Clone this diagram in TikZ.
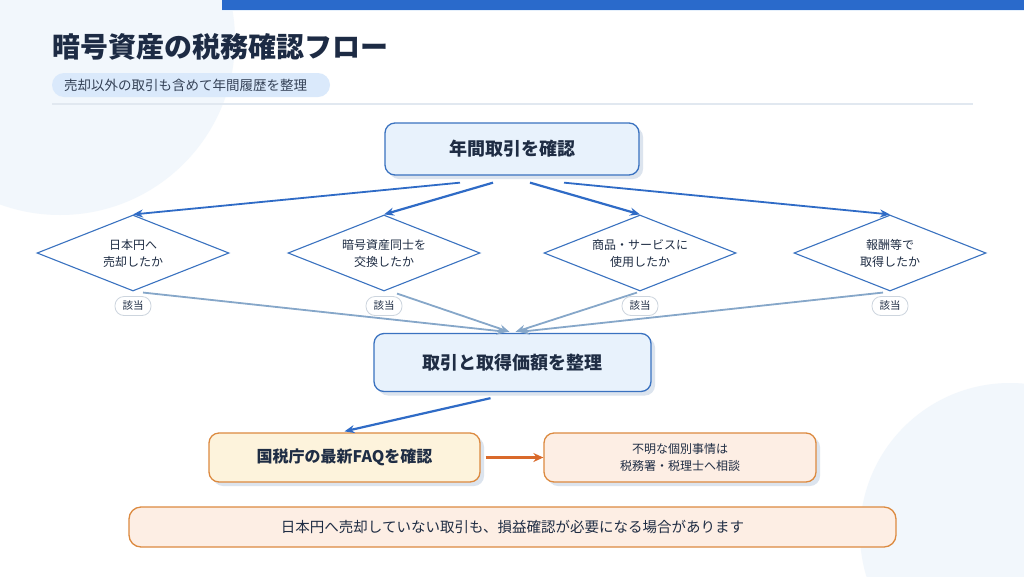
\documentclass[tikz,border=0pt]{standalone}
\usepackage{fontspec}
\setmainfont{Noto Sans CJK JP}
\usetikzlibrary{shapes.geometric,arrows.meta,calc,shadows}
\definecolor{barblue}{HTML}{2A6ACB}
\definecolor{bgcirc}{HTML}{F2F7FC}
\definecolor{titlec}{HTML}{1D2B44}
\definecolor{pillc}{HTML}{DAE9FB}
\definecolor{sepc}{HTML}{E1E8F0}
\definecolor{boxfill}{HTML}{E8F2FC}
\definecolor{boxline}{HTML}{3A72C0}
\definecolor{arrblue}{HTML}{2F6BC6}
\definecolor{arrgray}{HTML}{86A7C9}
\definecolor{yelfill}{HTML}{FDF3DC}
\definecolor{orline}{HTML}{DC8A40}
\definecolor{peach}{HTML}{FDEEE4}
\definecolor{orarrow}{HTML}{D9692A}
\definecolor{txt}{HTML}{1F2D44}
\definecolor{shadowc}{HTML}{DCE4EE}
\definecolor{tagline}{HTML}{CDD5DE}
\tikzset{
  mainbox/.style={draw=boxline, line width=1.3pt, fill=boxfill, rounded corners=10pt,
    text=txt, font=\fontsize{18}{22}\selectfont\bfseries,
    drop shadow={shadow xshift=4pt, shadow yshift=-4pt, fill=shadowc, opacity=1}},
  faqbox/.style={draw=orline, line width=1.3pt, fill=yelfill, rounded corners=10pt,
    text=txt, font=\fontsize{16}{20}\selectfont\bfseries,
    drop shadow={shadow xshift=4pt, shadow yshift=-4pt, fill=shadowc, opacity=1}},
  conbox/.style={draw=orline, line width=1.3pt, fill=peach, rounded corners=10pt,
    text=txt, font=\fontsize{12}{17}\selectfont, align=center,
    drop shadow={shadow xshift=4pt, shadow yshift=-4pt, fill=shadowc, opacity=1}},
  banner/.style={draw=orline, line width=1.3pt, fill=peach, rounded corners=12pt,
    text=txt, font=\fontsize{14.5}{18}\selectfont},
  decision/.style={diamond, aspect=2.53, draw=boxline, line width=1.1pt, fill=white, inner sep=0pt,
    minimum width=192pt, minimum height=76pt, text=txt, align=center,
    font=\fontsize{12}{17}\selectfont},
  tag/.style={draw=tagline, line width=0.8pt, fill=white, rounded corners=9pt,
    minimum width=36pt, minimum height=19pt, inner sep=0pt, text=txt,
    font=\fontsize{10.5}{12}\selectfont},
  bluearrow/.style={draw=arrblue, line width=2.2pt, -{Stealth[length=10pt,width=8pt]}},
  thinarrow/.style={draw=arrblue, line width=1.8pt, -{Stealth[length=10pt,width=8pt]}},
  grayarrow/.style={draw=arrgray, line width=1.8pt, -{Stealth[length=10pt,width=8pt]}},
  orangearrow/.style={draw=orarrow, line width=2.5pt, -{Stealth[length=10pt,width=9pt]}},
}
\begin{document}
\begin{tikzpicture}[x=1pt,y=-1pt]
\useasboundingbox (0,0) rectangle (1024,576);
\fill[white] (0,0) rectangle (1024,576);
\begin{scope}
  \clip (0,0) rectangle (1024,576);
  \fill[bgcirc] (60,40) circle (175);
  \fill[bgcirc] (1010,533) circle (150);
\end{scope}
\fill[barblue] (222,0) rectangle (1024,10);
\fill[pillc!70] (222,10) rectangle (1024,11);
% title
\node[anchor=west, inner sep=0pt, text=titlec, font=\fontsize{28}{32}\selectfont\bfseries] (title) at (52,47) {暗号資産の税務確認フロー};
\fill[pillc, rounded corners=12pt] (52,73) rectangle (330,97);
\node[anchor=west, inner sep=0pt, text=txt!90, font=\fontsize{13.5}{16}\selectfont] (sub) at (64,85) {売却以外の取引も含めて年間履歴を整理};
\draw[sepc, line width=1.5pt] (52,104) -- (973,104);
% nodes
\node[mainbox, minimum width=254pt, minimum height=52pt] (top) at (512,149) {年間取引を確認};
\node[decision] (d1) at (133,253) {日本円へ\\売却したか};
\node[decision] (d2) at (384,253) {暗号資産同士を\\交換したか};
\node[decision] (d3) at (640,253) {商品・サービスに\\使用したか};
\node[decision] (d4) at (890,253) {報酬等で\\取得したか};
\node[tag] (t1) at (133,306) {該当};
\node[tag] (t2) at (384,306) {該当};
\node[tag] (t3) at (640,306) {該当};
\node[tag] (t4) at (890,306) {該当};
\node[mainbox, minimum width=277pt, minimum height=58pt] (mid) at (512.5,362.5) {取引と取得価額を整理};
\node[faqbox, minimum width=271pt, minimum height=49pt] (faq) at (344.5,457.5) {国税庁の最新FAQを確認};
\node[conbox, minimum width=272pt, minimum height=49pt] (con) at (680,457.5) {不明な個別事情は\\税務署・税理士へ相談};
\node[banner, minimum width=767pt, minimum height=40pt] (ban) at (512.5,527) {日本円へ売却していない取引も、損益確認が必要になる場合があります};
% connectors
\draw[thinarrow] ($(top.south)+(-52,7)$) -- (d1.north);
\draw[bluearrow] ($(top.south)+(-19,7)$) -- (d2.north);
\draw[bluearrow] ($(top.south)+(18,7)$) -- (d3.north);
\draw[thinarrow] ($(top.south)+(52,7)$) -- (d4.north);
\draw[grayarrow] ($(d1.south)+(10,1)$) -- ($(mid.north)+(-6,-1)$);
\draw[grayarrow] ($(d2.south)+(13,2)$) -- ($(mid.north)+(-3,-1)$);
\draw[grayarrow] ($(d3.south)+(-3,1)$) -- ($(mid.north)+(3,-1)$);
\draw[grayarrow] ($(d4.south)+(-7,1)$) -- ($(mid.north)+(7,-1)$);
\draw[bluearrow] ($(mid.south)+(-22,6)$) -- ($(faq.north)+(0,-1)$);
\draw[orangearrow] ($(faq.east)+(5,0)$) -- (con.west);
\end{tikzpicture}
\end{document}
